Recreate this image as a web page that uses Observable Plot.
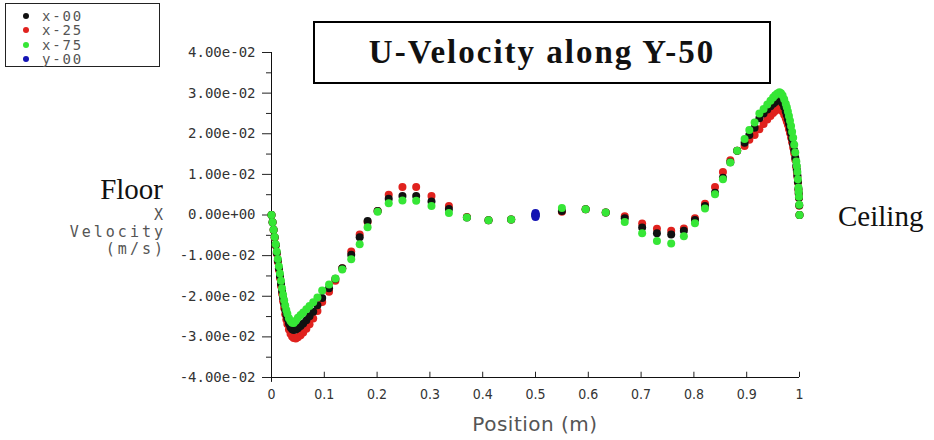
<!DOCTYPE html>
<html><head><meta charset="utf-8">
<script src="https://cdn.jsdelivr.net/npm/d3@7"></script>
<script src="https://cdn.jsdelivr.net/npm/@observablehq/plot@0.6"></script>
<style>
body{margin:0;background:#fff;}
#wrap{position:relative;width:934px;height:440px;overflow:hidden;background:#fff;}
#wrap svg{position:absolute;left:0;top:0;}
.abs{position:absolute;white-space:nowrap;}
#legend{position:absolute;left:5px;top:3px;width:155px;height:64px;box-sizing:border-box;border:1px solid #222;overflow:visible;}
.lrow{position:absolute;left:0;width:150px;height:14px;}
.ldot{position:absolute;left:17px;width:6px;height:6px;border-radius:50%;}
.ltxt{position:absolute;left:36px;width:100px;white-space:nowrap;font-family:"DejaVu Sans Mono",monospace;font-size:14px;letter-spacing:1.8px;color:#555;line-height:14px;}
#titlebox{position:absolute;left:313px;top:21px;width:458px;height:63px;box-sizing:border-box;border:2px solid #000;white-space:nowrap;
  font-family:"Liberation Serif","Times New Roman",serif;font-weight:bold;font-size:33px;letter-spacing:2px;text-align:center;line-height:58px;color:#111;}
.serif{font-family:"Liberation Serif","Times New Roman",serif;font-size:29px;color:#111;}
.ylab{font-family:"DejaVu Sans Mono",monospace;font-size:15px;letter-spacing:3px;color:#555;text-align:right;}
</style></head>
<body><div id="wrap"></div>
<script>
// ---- data ----
const seriesNames = ["x-00", "x-25", "x-75", "y-00"];
const seriesColors = ["#111111", "#e0221e", "#36e636", "#1414b4"];
const position = [
  0, .002, .004, .006, .008, .010, .012, .014, .016, .018, .020, .022, .024, .026, .028, .030, .033, .036, .039, .042, .046, .050, .055, .060, .066, .072, .079, .087, .096,
  .109, .121, .134, .151, .167, .182, .201, .222, .248, .274, .303, .336, .370, .411, .454, .500, .550, .595, .633, .669, .702, .730, .757, .781, .802, .821, .840, .855, .869, .882, .896, .905, .915, .924, .932,
  .939, .945, .950, .954, .958, .962, .965, .968, .971, .974, .976, .978, .980, .982, .984, .986, .988, .990, .992, .994, .995, .996, .997, .998, .9985, .999, .9995, 1.0
];
const uX00 = [
  0, -.0018, -.0036, -.0055, -.0074, -.0093, -.0112, -.0131, -.0150, -.0169, -.0187, -.0204, -.0219, -.0233, -.0245, -.0255, -.0267, -.0276, -.0281, -.0283, -.0282, -.0279, -.0273, -.0267, -.0259, -.0249, -.0238, -.0222, -.0204,
  -.0180, -.0157, -.0131, -.0098, -.0055, -.0015, .0010, .0040, .0047, .0047, .0033, .0015, -.0006, -.0013, -.0011, 0, .0010, .0014, .0006, -.0008, -.0031, -.0045, -.0048, -.0039, -.0012, .0022, .0055, .0092, .0130, .0158, .0178, .0197, .0215, .0238, .0250,
  .0260, .0268, .0274, .0278, .0281, .0283, .0281, .0275, .0266, .0255, .0246, .0236, .0225, .0213, .0201, .0188, .0174, .0159, .0141, .0121, .0110, .0097, .0082, .0064, .0054, .0043, .0024, .0000
];
const uX25 = [
  0, -.0018, -.0037, -.0056, -.0075, -.0095, -.0115, -.0135, -.0155, -.0175, -.0194, -.0212, -.0229, -.0244, -.0257, -.0268, -.0282, -.0292, -.0299, -.0303, -.0304, -.0301, -.0296, -.0289, -.0280, -.0269, -.0255, -.0236, -.0214,
  -.0189, -.0162, -.0131, -.0090, -.0048, -.0017, .0010, .0050, .0069, .0069, .0047, .0022, -.0005, -.0013, -.0011, 0, .0008, .0014, .0006, -.0003, -.0021, -.0034, -.0039, -.0033, -.0008, .0028, .0069, .0106, .0135, .0158, .0170, .0185, .0197, .0211, .0224,
  .0235, .0244, .0251, .0256, .0260, .0262, .0260, .0255, .0247, .0238, .0230, .0222, .0212, .0202, .0191, .0179, .0166, .0152, .0136, .0117, .0106, .0094, .0080, .0062, .0052, .0042, .0023, .0000
];
const uX75 = [
  0, -.0018, -.0036, -.0054, -.0072, -.0090, -.0108, -.0126, -.0144, -.0162, -.0180, -.0196, -.0210, -.0223, -.0234, -.0243, -.0254, -.0261, -.0265, -.0266, -.0260, -.0253, -.0246, -.0240, -.0232, -.0224, -.0215, -.0203, -.0186,
  -.0171, -.0156, -.0134, -.0109, -.0072, -.0030, .0008, .0029, .0036, .0035, .0022, .0005, -.0006, -.0013, -.0011, 0, .0017, .0014, .0006, -.0017, -.0045, -.0064, -.0070, -.0052, -.0020, .0016, .0051, .0088, .0129, .0158, .0187, .0209, .0228, .0250, .0261,
  .0272, .0281, .0289, .0295, .0299, .0302, .0300, .0294, .0285, .0274, .0265, .0255, .0244, .0232, .0219, .0205, .0190, .0173, .0154, .0132, .0120, .0106, .0088, .0068, .0057, .0045, .0025, .0000
];
const y00Position = [0.5, 0.5, 0.5, 0.5, 0.5];
const uY00 = [0.0005, 0.00025, 0, -0.00025, -0.0005];

const yTicks = [-0.04, -0.03, -0.02, -0.01, 0, 0.01, 0.02, 0.03, 0.04];
const yMinorTicks = [-0.035, -0.025, -0.015, -0.005, 0.005, 0.015, 0.025, 0.035];
const xTicks = [0, 0.1, 0.2, 0.3, 0.4, 0.5, 0.6, 0.7, 0.8, 0.9, 1];
const titleText = "U-Velocity along Y-50";
const xLabel = "Position (m)";
const yLabelLines = ["X", "Velocity", "(m/s)"];
const leftNote = "Floor", rightNote = "Ceiling";

// ---- build table ----
const rows = [];
[[uX25, 1], [uX00, 0], [uX75, 2]].forEach(([arr, si]) => {
  arr.forEach((u, i) => rows.push({x: position[i], u, s: seriesNames[si]}));
});
uY00.forEach((u, i) => rows.push({x: y00Position[i], u, s: seriesNames[3]}));

const fmtExp = d => d.toExponential(2).replace(/e([+-])(\d)$/, "e$10$2");
const yMin = yTicks[0];

const chart = Plot.plot({
  width: 934, height: 440,
  marginLeft: 271, marginRight: 135, marginTop: 52, marginBottom: 63,
  x: {domain: [0, 1], label: null},
  y: {domain: [yTicks[0], yTicks[yTicks.length - 1]], label: null},
  color: {domain: seriesNames, range: seriesColors},
  style: {background: "transparent", overflow: "visible"},
  marks: [
    Plot.axisY({ticks: yMinorTicks, tickSize: 5, tickFormat: () => "", label: null, stroke: "#222"}),
    Plot.axisY({ticks: yTicks, tickSize: 9, tickPadding: 7, tickFormat: fmtExp, label: null,
      fontFamily: "DejaVu Sans Mono, monospace", fontSize: 14, fill: "#333", stroke: "#222"}),
    Plot.axisX({ticks: xTicks, tickSize: 0, tickPadding: 12, tickFormat: d => String(d), label: null,
      fontFamily: "DejaVu Sans Condensed, DejaVu Sans, sans-serif", fontSize: 14, fill: "#333"}),
    Plot.ruleX(xTicks, {x: d => d, y1: yMin, y2: yMin + 0.0013, stroke: "#222"}),
    Plot.ruleY([yMin], {stroke: "#111"}),
    Plot.ruleX([0], {y1: yMin - 0.0012, y2: yTicks[yTicks.length - 1], stroke: "#111"}),
    Plot.dot(rows, {x: "x", y: "u", fill: "s", r: 4, stroke: null})
  ]
});
const wrap = document.getElementById("wrap");
wrap.appendChild(chart);

function addDiv(cls, text, css) {
  const d = document.createElement("div");
  d.className = cls; d.textContent = text;
  Object.assign(d.style, css);
  wrap.appendChild(d);
  return d;
}
// legend
const lg = document.createElement("div"); lg.id = "legend"; wrap.appendChild(lg);
seriesNames.forEach((n, i) => {
  const r = document.createElement("div"); r.className = "lrow"; r.style.top = (5 + i * 14.3) + "px";
  const dot = document.createElement("div"); dot.className = "ldot"; dot.style.background = seriesColors[i]; dot.style.top = "4px";
  const t = document.createElement("div"); t.className = "ltxt"; t.textContent = n; t.style.top = "0px";
  r.appendChild(dot); r.appendChild(t); lg.appendChild(r);
});
// title
const tb = document.createElement("div"); tb.id = "titlebox"; tb.textContent = titleText; wrap.appendChild(tb);
// x label
addDiv("abs", xLabel, {left: "0px", width: "1070px", textAlign: "center", top: "412px",
  fontFamily: "DejaVu Sans, sans-serif", fontSize: "20px", color: "#555", letterSpacing: "0.5px"});
// y label
yLabelLines.forEach((t, i) => addDiv("abs ylab", t, {right: (934 - 166) + "px", top: (208 + i * 17) + "px", lineHeight: "15px", height: "15px"}));
addDiv("abs serif", leftNote, {right: (934 - 163) + "px", top: "173px", lineHeight: "32px"});
addDiv("abs serif", rightNote, {left: "838px", top: "200px", lineHeight: "32px"});
</script>
</body></html>
